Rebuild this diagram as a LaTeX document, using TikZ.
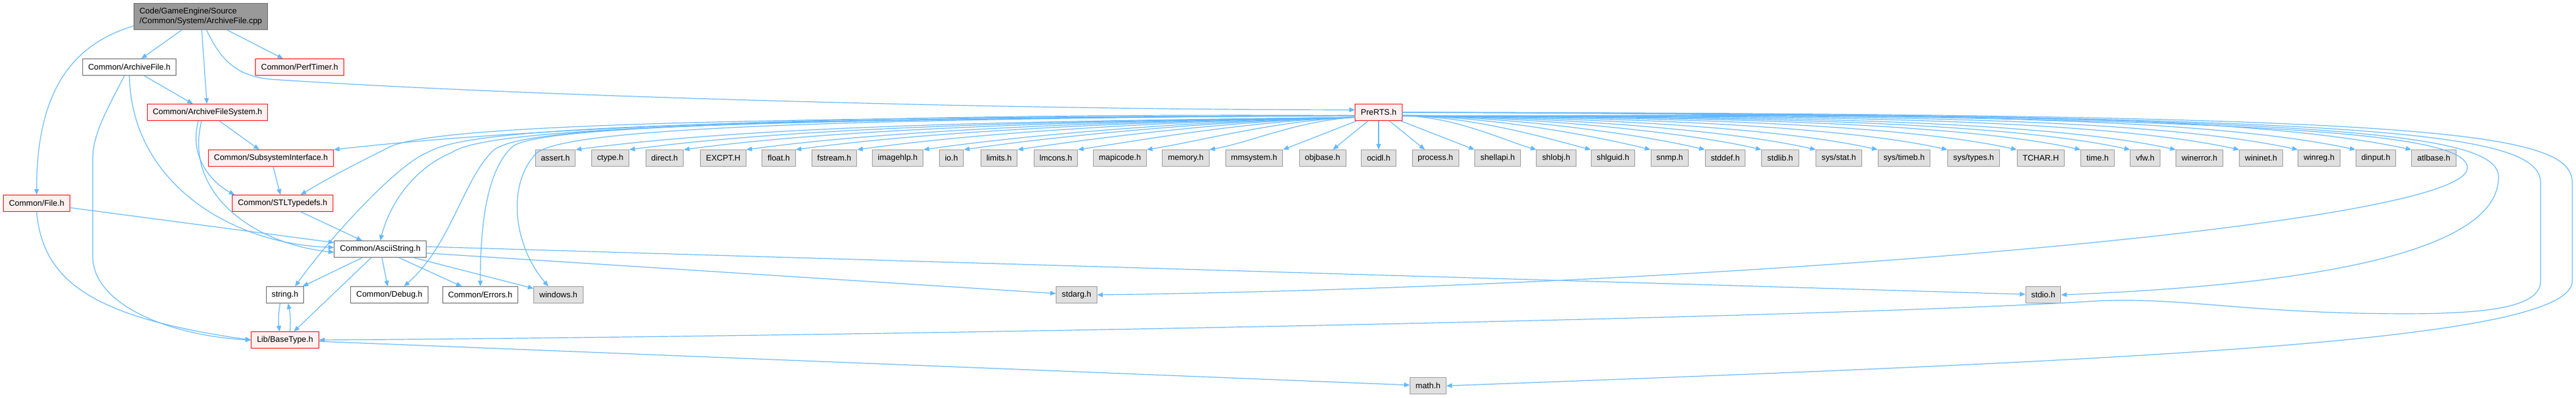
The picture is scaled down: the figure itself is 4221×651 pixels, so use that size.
\documentclass[tikz,border=0pt]{standalone}
\usepackage{fontspec}
\setmainfont{Liberation Sans}
\usetikzlibrary{arrows.meta,calc}

\begin{document}
\begin{tikzpicture}[x=0.75pt,y=-0.75pt]
\definecolor{linkblue}{HTML}{63B8FF}
\definecolor{srcfill}{HTML}{999999}
\definecolor{docline}{HTML}{666666}
\definecolor{redfill}{HTML}{FFF0F0}
\definecolor{sysfill}{HTML}{E0E0E0}
\definecolor{sysline}{HTML}{999999}
\tikzset{hdr/.style={draw,line width=0.75pt,inner xsep=6.8pt,inner ysep=0pt,
    minimum height=20pt,font=\fontsize{10}{12}\selectfont},
  srcbox/.style={hdr,fill=srcfill,draw=docline,align=left,minimum height=32pt},
  docbox/.style={hdr,fill=white,draw=docline},
  redbox/.style={hdr,fill=redfill,draw=red},
  sysbox/.style={hdr,fill=sysfill,draw=sysline},
  inc/.style={draw=linkblue,line width=0.9pt,-{Triangle[length=7pt,width=5.6pt]}}}
\useasboundingbox (0,0) rectangle (4221,651);

\node[srcbox](cpp)at(329,27){Code/GameEngine/Source\\/Common/System/ArchiveFile.cpp};
\node[docbox](archivefile)at(212,110){Common/ArchiveFile.h};
\node[redbox](perftimer)at(491,110){Common/PerfTimer.h};
\node[redbox](archivefs)at(340,184){Common/ArchiveFileSystem.h};
\node[redbox](subsystem)at(444,259){Common/SubsystemInterface.h};
\node[redbox](filehdr)at(60,333){Common/File.h};
\node[redbox](stltypedefs)at(463,333){Common/STLTypedefs.h};
\node[docbox](ascii)at(623,408){Common/AsciiString.h};
\node[docbox](stringh)at(467,483){string.h};
\node[docbox](debug)at(638,483){Common/Debug.h};
\node[docbox](errors)at(787,483){Common/Errors.h};
\node[sysbox](windows)at(915,483){windows.h};
\node[redbox](basetype)at(467,557){Lib/BaseType.h};
\node[redbox](prerts)at(2259,184){PreRTS.h};
\node[sysbox](stdarg)at(1764,483){stdarg.h};
\node[sysbox](stdio)at(3348,483){stdio.h};
\node[sysbox](math)at(2340,632){math.h};

% row of system headers under PreRTS.h
\foreach \hname/\x/\txt in {assert/910/assert.h,ctype/1000/ctype.h,direct/1089/direct.h,
  excpt/1185/EXCPT.H,float/1276/float.h,fstream/1367/fstream.h,imagehlp/1471/imagehlp.h,
  io/1559/io.h,limits/1637/limits.h,lmcons/1730/lmcons.h,mapicode/1835/mapicode.h,
  memory/1943/memory.h,mmsystem/2055/mmsystem.h,objbase/2167/objbase.h,ocidl/2259/ocidl.h,
  process/2352/process.h,shellapi/2454/shellapi.h,shlobj/2550/shlobj.h,shlguid/2643/shlguid.h,
  snmp/2736/snmp.h,stddef/2827/stddef.h,stdlib/2917/stdlib.h,sysstat/3013/{sys/stat.h},
  systimeb/3120/{sys/timeb.h},systypes/3234/{sys/types.h},tchar/3344/TCHAR.H,time/3437/time.h,
  vfw/3515/vfw.h,winerror/3604/winerror.h,wininet/3705/wininet.h,winreg/3800/winreg.h,
  dinput/3893/dinput.h,atlbase/3988/atlbase.h}
  \node[sysbox](\hname)at(\x,259){\txt};

% ArchiveFile.cpp
\draw[inc](cpp.188) .. controls (110,75) and (60,160) .. (filehdr.north);
\draw[inc](cpp)--(archivefile);
\draw[inc](cpp)--(archivefs);
\draw[inc](cpp)--(perftimer);
\draw[inc](cpp.293) .. controls (360,95) and (385,125) .. (445,130)
  .. controls (900,160) and (1700,180) .. (prerts.174);

% ArchiveFile.h, ArchiveFileSystem.h and the rest of the left part
\draw[inc](archivefile)--(archivefs);
\draw[inc](archivefile.south) .. controls (215,300) and (380,400) .. (ascii.178);
\draw[inc](archivefile.240) .. controls (175,180) and (152,220) .. (152,260)--(152,420)
  .. controls (152,500) and (280,550) .. (basetype.west);
\draw[inc](archivefs)--(subsystem);
\draw[inc](archivefs.223) .. controls (310,250) and (340,295) .. (stltypedefs.170);
\draw[inc](archivefs.235) .. controls (300,320) and (420,400) .. (ascii.184);
\draw[inc](subsystem)--(stltypedefs);
\draw[inc](stltypedefs)--(ascii);
\draw[inc](filehdr)--(ascii.172);
\draw[inc](filehdr.south) .. controls (70,460) and (150,520) .. (basetype.west);
\draw[inc](ascii)--(stringh);
\draw[inc](ascii)--(basetype);
\draw[inc](ascii)--(debug);
\draw[inc](ascii)--(errors);
\draw[inc](ascii)--(windows);
\draw[inc](ascii.3)--(stdio);
\draw[inc](ascii.-5)--(stdarg);
\draw[inc]([xshift=-6pt]stringh.south) to[bend right=8] ([xshift=-6.75pt]basetype.north);
\draw[inc]([xshift=6pt]basetype.north) to[bend right=8] ([xshift=3.75pt]stringh.south);
\draw[inc](basetype)--(math);

% PreRTS.h
\draw[inc](prerts.188) .. controls (1500,185) and (900,205) .. (subsystem.north east);
\draw[inc](prerts.188) .. controls (1200,192) and (720,205) .. (640,240)
  .. controls (600,260) and (540,290) .. (stltypedefs.25);
\draw[inc](prerts.188) .. controls (1000,195) and (760,215) .. (700,250)
  .. controls (650,270) and (540,390) .. (stringh.40);
\draw[inc](prerts.188) .. controls (1100,195) and (790,215) .. (740,250)
  .. controls (680,275) and (640,330) .. (ascii.north);
\draw[inc](prerts.188) .. controls (1150,195) and (860,210) .. (810,245)
  .. controls (760,290) and (740,400) .. (debug.30);
\draw[inc](prerts.188) .. controls (1200,195) and (880,210) .. (840,240)
  .. controls (795,280) and (787,380) .. (errors.north);
\draw[inc](prerts.188) .. controls (1250,195) and (930,215) .. (880,250)
  .. controls (830,300) and (840,400) .. (windows.140);
\foreach \hname/\x in {assert/910,ctype/1000,direct/1089,excpt/1185,float/1276,fstream/1367,
  imagehlp/1471,io/1559,limits/1637,lmcons/1730,mapicode/1835,memory/1943}{
  \pgfmathsetmacro\d{2219-\x}
  \draw[inc](prerts.192) .. controls +(-0.35*\d,6) and +(0.25*\d,-0.03*\d-4) .. (\hname.north east);}
\draw[inc](prerts)--(mmsystem.north east);
\draw[inc](prerts)--(objbase);
\draw[inc](prerts)--(ocidl);
\draw[inc](prerts)--(process);
\draw[inc](prerts)--(shellapi.north west);
\foreach \hname/\x in {shlobj/2550,shlguid/2643,snmp/2736,stddef/2827,stdlib/2917,sysstat/3013,
  systimeb/3120,systypes/3234,tchar/3344,time/3437,vfw/3515,winerror/3604,wininet/3705,
  winreg/3800,dinput/3893,atlbase/3988}{
  \pgfmathsetmacro\d{\x-2298}
  \draw[inc](prerts.-8) .. controls +(0.35*\d,2) and +(-0.2*\d,-0.04*\d-4) .. (\hname.north west);}
\draw[inc](prerts.east) .. controls (3700,190) and (4043,215) .. (4043,275)
  .. controls (4043,370) and (2800,470) .. (stdarg.east);
\draw[inc](prerts.east) .. controls (3800,188) and (4094,215) .. (4094,290)
  .. controls (4094,430) and (3700,470) .. (stdio.east);
\draw[inc](prerts.east) .. controls (3900,188) and (4163,215) .. (4163,300)--(4163,460)
  .. controls (4163,510) and (4050,517) .. (3860,513)
  .. controls (3650,508) and (3550,485) .. (3420,494)
  .. controls (3000,520) and (1500,550) .. (basetype.east);
\draw[inc](prerts.east) .. controls (4000,186) and (4215,215) .. (4215,300)--(4215,460)
  .. controls (4215,560) and (3500,590) .. (math.east);
\end{tikzpicture}
\end{document}
